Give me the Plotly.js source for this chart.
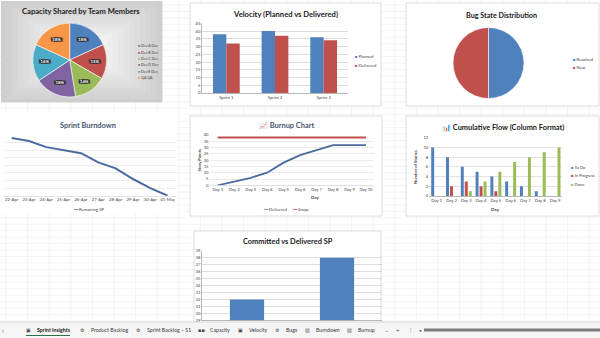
<!DOCTYPE html>
<html><head><meta charset="utf-8">
<script src="https://cdn.plot.ly/plotly-3.0.1.min.js"></script>
<style>html,body{margin:0;padding:0;background:#fff;overflow:hidden;} #chart{width:600px;height:338px;}</style>
</head><body><div id="chart"></div>
<script>
// ---------- DATA ----------
const capacityMembers = ['Dev A Dev','Dev B Dev','Dev C Dev','Dev D Dev','Dev E Dev','QA QA'];
const capacityShare = [18,15,14,18,16,18];
const sprints = ['Sprint 1','Sprint 2','Sprint 3'];
const plannedSP = [38,40,36];
const deliveredSP = [32,37,34];
const bugStates = ['Resolved','New'];
const bugCounts = [1,1];
const burndownDates = ['22-Apr','23-Apr','24-Apr','25-Apr','26-Apr','27-Apr','28-Apr','29-Apr','30-Apr','01-May'];
const remainingSP = [38,36,32,30,28,22,18,11,5,0];
const burnupDays = ['Day 1','Day 2','Day 3','Day 4','Day 5','Day 6','Day 7','Day 8','Day 9','Day 10'];
const burnupDelivered = [0,3,6,10,18,24,28,32,32,32];
const burnupScope = [38,38,38,38,38,38,38,38,38,38];
const cfdDays = ['Day 1','Day 2','Day 3','Day 4','Day 5','Day 6','Day 7','Day 8','Day 9'];
const cfdToDo = [10,8,6,5,4,3,2,1,0];
const cfdInProgress = [0,2,3,2,1,0,0,0,0];
const cfdDone = [0,0,1,3,5,7,8,9,10];
const commitLabels = ['Delivered','Committed'];
const commitValues = [32,38];
const sheetTabs = ['Sprint Insights','Product Backlog','Sprint Backlog – S1','Capacity','Velocity','Bugs','Burndown','Burnup'];

// ---------- STYLE ----------
const W = 600, H = 338;
const px = x => x / W;
const py = y => 1 - y / H;
const F = 'Lato, "Open Sans", sans-serif';
const C = {blue:'#4F81BD', red:'#C0504D', green:'#9BBB59', purple:'#8064A2', aqua:'#4BACC6', orange:'#F79646', line:'#4A6B9E'};
const pieColors = [C.blue, C.red, C.green, C.purple, C.aqua, C.orange];
const tickF = {family:F, size:4.2, color:'#404040'};

const shadow = ['1px 0 0 #2b2b2b','-1px 0 0 #2b2b2b','0 1px 0 #2b2b2b','0 -1px 0 #2b2b2b',
  '2px 0 0 #2b2b2b','-2px 0 0 #2b2b2b','2px 1px 0 #2b2b2b','-2px -1px 0 #2b2b2b','2px -1px 0 #2b2b2b','-2px 1px 0 #2b2b2b'].join(',');

const traces = [
  {type:'pie', labels:capacityMembers, values:capacityShare, sort:false, direction:'clockwise', rotation:0,
   domain:{x:[px(32.7),px(106.7)], y:[py(99),py(21)]},
   marker:{colors:pieColors, line:{color:'#ffffff', width:0.6}},
   texttemplate:'%{value}%', textposition:'inside', insidetextorientation:'horizontal',
   textfont:{family:F, size:4.3, color:'#ffffff', weight:'bold', shadow:shadow},
   showlegend:false, hoverinfo:'label+value'},
  {type:'bar', name:'Planned', x:sprints, y:plannedSP, xaxis:'x', yaxis:'y', marker:{color:C.blue},
   width:0.275, offset:-0.275, showlegend:false},
  {type:'bar', name:'Delivered', x:sprints, y:deliveredSP, xaxis:'x', yaxis:'y', marker:{color:C.red},
   width:0.275, offset:0, showlegend:false},
  {type:'pie', labels:bugStates, values:bugCounts, sort:false, direction:'clockwise', rotation:0,
   domain:{x:[px(453),px(524)], y:[py(99),py(27)]},
   marker:{colors:[C.blue, C.red], line:{color:'#ffffff', width:0.6}},
   textinfo:'none', showlegend:false},
  {type:'scatter', mode:'lines', name:'Remaining SP', x:burndownDates, y:remainingSP, xaxis:'x2', yaxis:'y2',
   line:{color:C.line, width:2}, showlegend:false},
  {type:'scatter', mode:'lines', name:'Scope', x:burnupDays, y:burnupScope, xaxis:'x3', yaxis:'y3',
   line:{color:C.red, width:2}, showlegend:false},
  {type:'scatter', mode:'lines', name:'Delivered', x:burnupDays, y:burnupDelivered, xaxis:'x3', yaxis:'y3',
   line:{color:C.line, width:1.8}, showlegend:false},
  {type:'bar', name:'To Do', x:cfdDays, y:cfdToDo, xaxis:'x4', yaxis:'y4', marker:{color:C.blue},
   width:0.2, offset:-0.37, showlegend:false},
  {type:'bar', name:'In Progress', x:cfdDays, y:cfdInProgress, xaxis:'x4', yaxis:'y4', marker:{color:C.red},
   width:0.2, offset:-0.1, showlegend:false},
  {type:'bar', name:'Done', x:cfdDays, y:cfdDone, xaxis:'x4', yaxis:'y4', marker:{color:C.green},
   width:0.2, offset:0.17, showlegend:false},
  {type:'bar', name:'SP', x:commitLabels, y:commitValues, xaxis:'x5', yaxis:'y5', marker:{color:C.blue},
   width:0.38, showlegend:false}
];

function xAx(d, anchor, extra) {
  return Object.assign({domain:[px(d[0]),px(d[1])], anchor:anchor, type:'category', showgrid:false, zeroline:false,
    showline:true, linecolor:'#9a9a9a', linewidth:0.7, ticks:'', tickfont:tickF, fixedrange:true}, extra||{});
}
function yAx(d, anchor, range, dtick, extra) {
  return Object.assign({domain:[py(d[0]),py(d[1])], anchor:anchor, range:range, dtick:dtick, showgrid:true,
    gridcolor:'#c4c4c4', gridwidth:0.6, zeroline:false, showline:false, ticks:'', tickfont:tickF, fixedrange:true}, extra||{});
}

// ---------- SHAPES (sheet grid, chart frames, tab bar) ----------
const shapes = [];
for (let x = 6; x < W; x += 21.6) shapes.push({type:'line', xref:'paper', yref:'paper', x0:px(x), x1:px(x), y0:py(0), y1:py(322), line:{color:'#e9e9e9', width:0.6}, layer:'below'});
for (let y = 5; y < 322; y += 6.45) shapes.push({type:'line', xref:'paper', yref:'paper', x0:0, x1:1, y0:py(y), y1:py(y), line:{color:'#ececec', width:0.6}, layer:'below'});
function frame(x0,y0,x1,y1,fill,border){
  shapes.push({type:'rect', xref:'paper', yref:'paper', x0:px(x0), x1:px(x1), y0:py(y1), y1:py(y0), fillcolor:fill, line:{color:border, width:border==='rgba(0,0,0,0)'?0:0.8}, layer:'below'});
}
// pie panel: soft radial-like gray fill built from nested rects
frame(1.5,1.5,162,102,'#cfcfcf','#c8c8c8');
for (let k = 1; k <= 10; k++) {
  const g = Math.round(0xcf + k * 3.4);
  const hex = '#' + g.toString(16).repeat(3);
  frame(1.5 + k*5.5, 1.5 + k*3.6, 162 - k*5.5, 102 - k*3.6, hex, 'rgba(0,0,0,0)');
}
frame(190,3,381,106,'#ffffff','#d4d4d4');
frame(406,3,599,106,'#ffffff','#d4d4d4');
frame(0,112,178,214,'#ffffff','rgba(0,0,0,0)');
frame(190,116,382,216,'#ffffff','#d4d4d4');
frame(406,116,599,216,'#ffffff','#d4d4d4');
frame(194,231,381,330,'#ffffff','#d4d4d4');
// tab bar
shapes.push({type:'rect', xref:'paper', yref:'paper', x0:0, x1:1, y0:0, y1:py(322), fillcolor:'#f5f5f5', line:{width:0}, layer:'above'});
shapes.push({type:'line', xref:'paper', yref:'paper', x0:0, x1:1, y0:py(322), y1:py(322), line:{color:'#d0d0d0', width:0.8}, layer:'above'});
shapes.push({type:'line', xref:'paper', yref:'paper', x0:px(26), x1:px(70), y0:py(335.5), y1:py(335.5), line:{color:'#2c6e49', width:1.2}, layer:'above'});
shapes.push({type:'rect', xref:'paper', yref:'paper', x0:px(424), x1:px(600), y0:py(331.5), y1:py(328.5), fillcolor:'#7b7b7b', line:{width:0}, layer:'above'});

// ---------- ANNOTATIONS ----------
const ann = [];
function txt(x, y, t, o) {
  ann.push(Object.assign({xref:'paper', yref:'paper', x:px(x), y:py(y), text:t, showarrow:false,
    xanchor:'center', yanchor:'middle', font:{family:F, size:4.5, color:'#404040'}}, o||{}));
}
function legend(names, colors, x, y0, dy, sym, size) {
  names.forEach((n,i) => txt(x, y0 + i*dy, '<span style="color:'+colors[i]+'">'+sym+'</span> '+n,
    {xanchor:'left', font:{family:F, size:size, color:'#404040'}}));
}
// titles
const titleF = (s,c) => ({family:F, size:s, color:c||'#1a1a1a', weight:'bold'});
txt(81, 11, 'Capacity Shared by Team Members', {font:titleF(7.6)});
txt(285, 13.5, 'Velocity (Planned vs Delivered)', {font:titleF(7.6)});
txt(501, 15, 'Bug State Distribution', {font:titleF(7.2)});
txt(88, 125, 'Sprint Burndown', {font:titleF(7.4,'#44546A')});
txt(286, 125, '📈 Burnup Chart', {font:titleF(7.4,'#44546A')});
txt(503, 127, '📊 Cumulative Flow (Column Format)', {font:titleF(7.4)});
txt(288, 241, 'Committed vs Delivered SP', {font:titleF(7.4)});
// legends
legend(capacityMembers, pieColors, 135.5, 45.7, 6.4, '■', 3.6);
legend(['Planned','Delivered'], [C.blue, C.red], 353.5, 57, 8, '■', 4.2);
legend(bugStates, [C.blue, C.red], 570.5, 59, 8, '■', 4.2);
legend(['To Do','In Progress','Done'], [C.blue, C.red, C.green], 568.5, 167, 8.5, '■', 4.2);
legend(['Remaining SP'], [C.line], 71, 209, 0, '━━', 4.2);
legend(['Delivered'], [C.line], 261, 209, 0, '━━', 4.2);
legend(['Scope'], [C.red], 290, 209, 0, '━━', 4.2);
// axis titles
txt(315, 197.5, 'Day', {font:{family:F, size:4.5, color:'#404040', weight:'bold'}});
txt(198.5, 160, 'Story Points', {textangle:-90, font:{family:F, size:4.2, color:'#404040', weight:'bold'}});
txt(495, 209, 'Day', {font:{family:F, size:4.5, color:'#404040', weight:'bold'}});
txt(415, 167, 'Number of Stories', {textangle:-90, font:{family:F, size:4.2, color:'#404040', weight:'bold'}});
// sheet tabs
const tabX = [35, 89, 145, 208.5, 247, 283.5, 314, 356];
const tabIcon = ['▣','⚙','⚙','▪▪','▣','⚙','▧','▧'];
sheetTabs.forEach((t,i) => {
  txt(tabX[i], 330, t, {xanchor:'left', font:{family:F, size:5.2, color:i===0?'#1a1a1a':'#3a3a3a', weight:i===0?'bold':'normal'}});
  txt(tabX[i]-2, 330, tabIcon[i], {xanchor:'right', font:{family:'DejaVu Sans', size:5, color:'#444'}});
});
txt(3, 330, '›', {font:{family:F, size:7, color:'#555'}});
txt(387, 330, '−', {font:{family:F, size:6, color:'#555'}});
txt(398, 330, '+', {font:{family:F, size:6, color:'#555'}});
txt(410.5, 330, '⋮', {font:{family:'DejaVu Sans', size:5.5, color:'#555'}});
txt(420, 330, '◂', {font:{family:'DejaVu Sans', size:4.5, color:'#555'}});

const layout = {
  width:W, height:H, margin:{l:0,r:0,t:0,b:0}, paper_bgcolor:'#ffffff', plot_bgcolor:'rgba(0,0,0,0)',
  showlegend:false, barmode:'group', font:{family:F},
  xaxis: xAx([202,348],'y'),
  yaxis: yAx([93,23.3],'x',[0,45],5, {showline:true, linecolor:'#9a9a9a', linewidth:0.7}),
  xaxis2: xAx([3,176.3],'y2', {linecolor:'#d9d9d9', range:[-0.5,9.5]}),
  yaxis2: yAx([195.7,135],'x2',[0,40],5, {gridcolor:'#e2e2e2', showticklabels:false}),
  xaxis3: xAx([209.5,374.2],'y3', {linecolor:'#d0d0d0', range:[-0.5,9.5]}),
  yaxis3: yAx([185.3,135],'x3',[0,40],5, {gridcolor:'#dedede'}),
  xaxis4: xAx([429.3,562.4],'y4', {range:[-0.5,8.5]}),
  yaxis4: yAx([196,137.7],'x4',[0,12],2, {gridcolor:'#d0d0d0'}),
  xaxis5: xAx([202,382],'y5', {showticklabels:false, range:[-0.5,1.5]}),
  yaxis5: yAx([320.3,250.7],'x5',[29,39],1, {showline:true, linecolor:'#9a9a9a', linewidth:0.7}),
  shapes:shapes, annotations:ann
};
Plotly.newPlot('chart', traces, layout, {displayModeBar:false, staticPlot:true});
</script></body></html>
